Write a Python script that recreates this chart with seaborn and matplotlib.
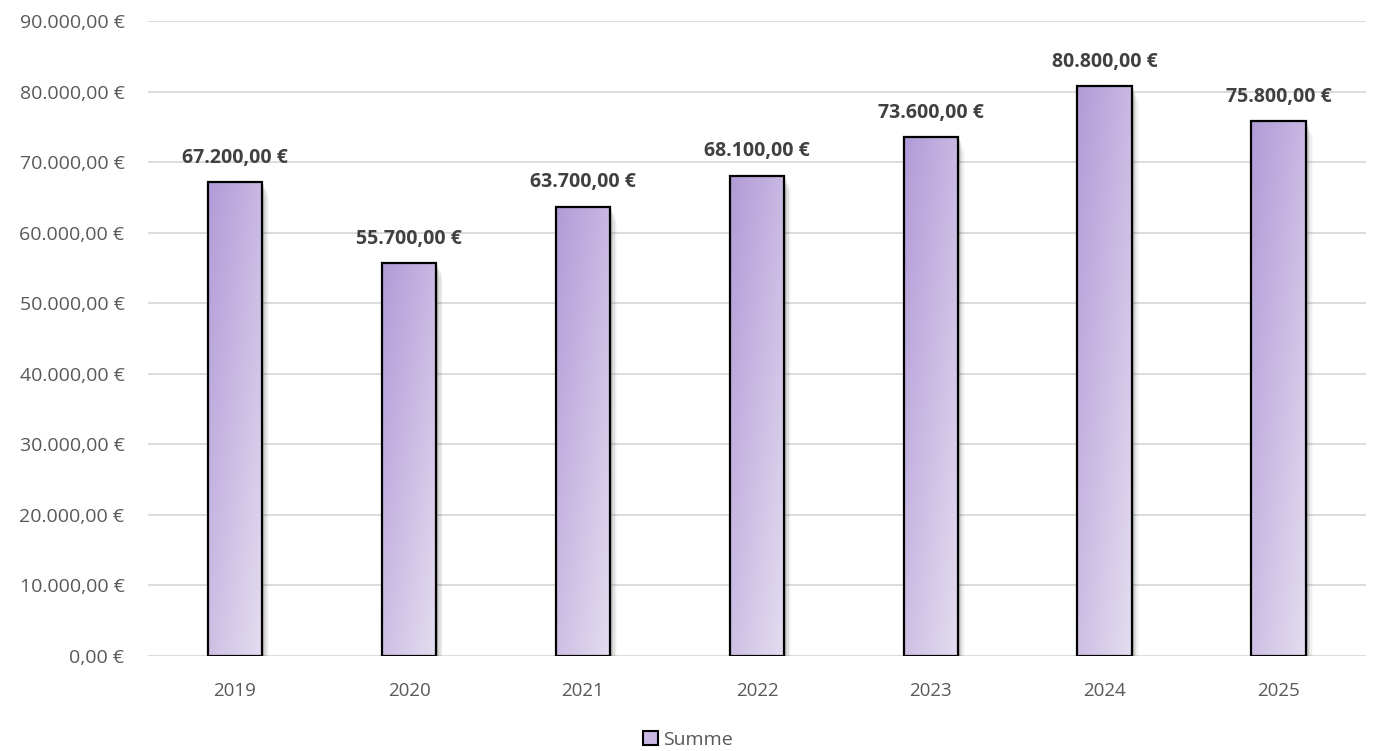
import numpy as np
import pandas as pd
import matplotlib
matplotlib.use('Agg')
import matplotlib.pyplot as plt
import matplotlib.patches as mpatches
from matplotlib.colors import LinearSegmentedColormap
import seaborn as sns


years = ['2019', '2020', '2021', '2022', '2023', '2024', '2025']
summe = [67200, 55700, 63700, 68100, 73600, 80800, 75800]
yticks = [0, 10000, 20000, 30000, 40000, 50000, 60000, 70000, 80000, 90000]


def euro(v):
    s = f'{v:,.2f}'
    s = s.replace(',', 'X').replace('.', ',').replace('X', '.')
    return s + ' €'


sns.set_theme(style='white')
plt.rcParams['font.family'] = ['Open Sans', 'DejaVu Sans']

df = pd.DataFrame({'Jahr': years, 'Summe': summe})

fig = plt.figure(figsize=(13.76, 7.51), dpi=100)
ax = fig.add_axes([0.1076, 0.1265, 0.885, 0.8455])

sns.barplot(data=df, x='Jahr', y='Summe', ax=ax, width=0.315,
            color='#c9b8e3', saturation=1)

ax.set_ylim(0, 90000)
ax.set_yticks(yticks)
ax.set_yticklabels([euro(v) for v in yticks], color='#595959', fontsize=14)
ax.tick_params(axis='x', colors='#595959', labelsize=13.5, length=0, pad=19)
ax.tick_params(axis='y', length=0, pad=17)
ax.yaxis.grid(True, color='#d9d9d9', linewidth=1.3)
ax.set_axisbelow(True)
for s in ax.spines.values():
    s.set_visible(False)
ax.set_xlabel('')
ax.set_ylabel('')

cmap = LinearSegmentedColormap.from_list('grad', ['#b29bd7', '#e4ddf0'])
grad = np.add.outer(np.linspace(0, 0.55, 100), np.linspace(0, 0.45, 50))

for p, v in zip(ax.patches, summe):
    x0, w, h = p.get_x(), p.get_width(), p.get_height()
    # drop shadow
    for i, a in enumerate([0.16, 0.12, 0.08, 0.05, 0.03]):
        off = 0.010 + i * 0.007
        sh = mpatches.Rectangle((x0 + off, -500 - i * 150), w, h + 100 - i * 250,
                                facecolor='#444444', edgecolor='none', alpha=a,
                                zorder=2)
        ax.add_patch(sh)
    p.set_facecolor('none')
    p.set_edgecolor('black')
    p.set_linewidth(1.6)
    p.set_zorder(4)
    im = ax.imshow(grad, cmap=cmap, aspect='auto', extent=[x0, x0 + w, 0, h],
                   origin='upper', zorder=3, vmin=0, vmax=1)
    im.set_clip_path(p)
    ax.text(x0 + w / 2, h + 2000, euro(v), ha='center', va='bottom',
            fontsize=14, fontweight='bold', color='#404040')

ax.set_xlim(-0.5, 6.5)
ax.set_ylim(0, 90000)

handle = mpatches.Patch(facecolor='#c9b8e3', edgecolor='black', linewidth=1.5)
fig.legend([handle], ['Summe'], loc='lower center', bbox_to_anchor=(0.5, -0.02),
           frameon=False, fontsize=14, handlelength=0.75, handleheight=0.75,
           handletextpad=0.25, labelcolor='#595959')

fig.savefig('out.png', dpi=100)
